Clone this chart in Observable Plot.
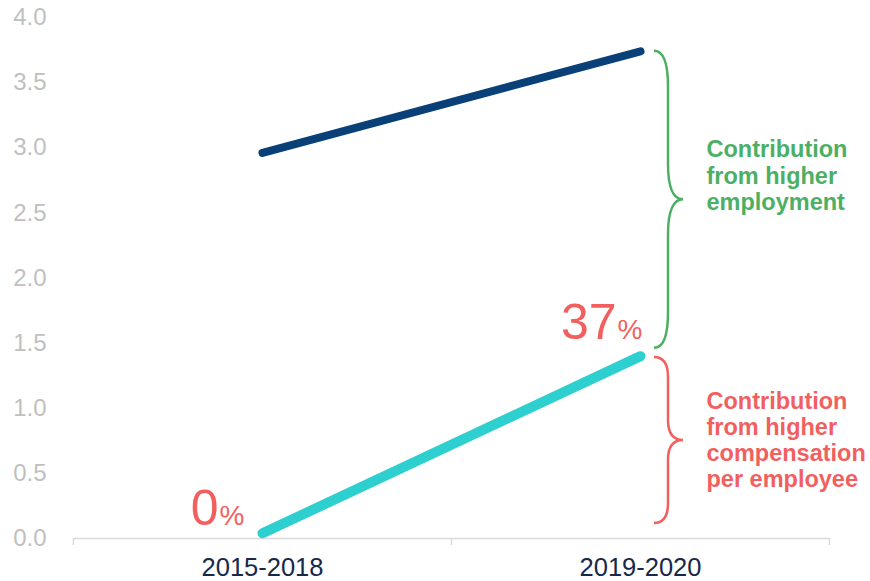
<!DOCTYPE html>
<html>
<head>
<meta charset="utf-8">
<script src="https://cdn.jsdelivr.net/npm/d3@7"></script>
<script src="https://cdn.jsdelivr.net/npm/@observablehq/plot@0.6"></script>
<style>
  html, body { margin: 0; padding: 0; background: #fff; }
  #chart { width: 870px; height: 581px; }
</style>
</head>
<body>
<div id="chart"></div>
<script>
// ---- data ----
const categories = ["2015-2018", "2019-2020"];
const totalSeries = [2.96, 3.74];          // dark blue line
const compensationSeries = [0.04, 1.40];   // cyan line
const pctLabels = ["0", "37"];
const yTicks = [0, 0.5, 1, 1.5, 2, 2.5, 3, 3.5, 4];
const braceLow = [1.46, 0.115];
const braceHigh = [3.74, 1.39];
const braceLabels = ["Contribution\nfrom higher\nemployment",
                     "Contribution\nfrom higher\ncompensation\nper employee"];
const braceLabelY = [2.79, 0.76];

const GREEN = "#4caf64";
const RED = "#f25f5f";
const idx = categories.map((_, i) => i);
const xPos = i => i + 0.5;

function brace(k, color) {
  return (index, scales) => {
    const xe = scales.x(xPos(1));
    const x0 = xe + 14, x1 = xe + 28, x2 = xe + 43;
    const yT = scales.y(braceHigh[k]), yB = scales.y(braceLow[k]);
    const yM = (yT + yB) / 2;
    const r = (yB - yT) * 0.12;
    const d = `M${x0},${yT} Q${x1},${yT} ${x1},${yT + r} L${x1},${yM - r} Q${x1},${yM} ${x2},${yM} ` +
              `Q${x1},${yM} ${x1},${yM + r} L${x1},${yB - r} Q${x1},${yB} ${x0},${yB}`;
    return d3.create("svg:path").attr("d", d).attr("fill", "none")
      .attr("stroke", color).attr("stroke-width", 2.5).node();
  };
}

function pct(i, dx, dy) {
  return [
    Plot.text([i], {x: xPos, y: j => compensationSeries[j], text: j => pctLabels[j],
      textAnchor: "end", lineAnchor: "bottom", dx, dy, fontSize: 50, fill: RED}),
    Plot.text([i], {x: xPos, y: j => compensationSeries[j], text: () => "%",
      textAnchor: "start", lineAnchor: "bottom", dx: dx + 1, dy, fontSize: 28, fill: RED})
  ];
}

const chart = Plot.plot({
  width: 870,
  height: 581,
  marginLeft: 73,
  marginRight: 41,
  marginTop: 17,
  marginBottom: 43,
  style: {fontFamily: "'Liberation Sans', Arial, sans-serif", background: "#fff"},
  x: {domain: [0, 2], axis: null},
  y: {domain: [0, 4], axis: null},
  marks: [
    Plot.axisY({ticks: yTicks, tickSize: 0, tickPadding: 27, label: null,
      tickFormat: d => d.toFixed(1), fontSize: 24, fill: "#c0c0c0"}),
    Plot.ruleY([0], {stroke: "#d9d9d9", strokeWidth: 1.5}),
    Plot.axisX({ticks: [0, 1, 2], tickSize: 7, label: null, tickFormat: () => "",
      stroke: "#d9d9d9", strokeWidth: 1.5}),
    Plot.axisX({ticks: idx.map(xPos), tickSize: 0, tickPadding: 19, label: null,
      tickFormat: v => categories[Math.floor(v)], fontSize: 25.5, fill: "#17284a"}),
    Plot.line(idx, {x: xPos, y: i => totalSeries[i], stroke: "#0a4078",
      strokeWidth: 8, strokeLinecap: "round"}),
    Plot.line(idx, {x: xPos, y: i => compensationSeries[i], stroke: "#2ecfcf",
      strokeWidth: 10, strokeLinecap: "round"}),
    ...pct(0, -44, -8),
    ...pct(1, -24, -17),
    brace(0, GREEN),
    brace(1, RED),
    Plot.text([0], {x: xPos(1), y: () => braceLabelY[0], text: () => braceLabels[0],
      textAnchor: "start", lineAnchor: "middle", dx: 66, fontSize: 23.5, fontWeight: "bold",
      lineHeight: 1.13, fill: GREEN}),
    Plot.text([1], {x: xPos(1), y: () => braceLabelY[1], text: () => braceLabels[1],
      textAnchor: "start", lineAnchor: "middle", dx: 66, fontSize: 23.5, fontWeight: "bold",
      lineHeight: 1.1, fill: RED})
  ]
});
document.getElementById("chart").appendChild(chart);
</script>
</body>
</html>
